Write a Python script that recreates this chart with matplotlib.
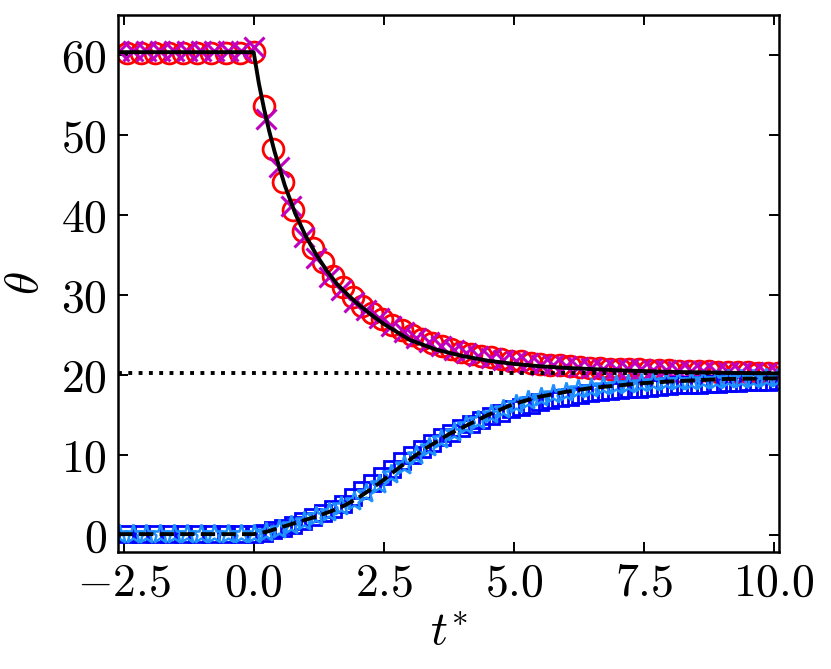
import numpy as np
import matplotlib
matplotlib.use('Agg')
import matplotlib.pyplot as plt

plt.rcParams['font.family'] = 'serif'
plt.rcParams['font.serif'] = ['cmr10']
plt.rcParams['mathtext.fontset'] = 'cm'
plt.rcParams['axes.formatter.use_mathtext'] = True

# reference curves
t_line_hot = [-2.6, 0.0, 0.1, 0.2, 0.3, 0.4, 0.6, 0.8, 1.0, 1.2, 1.4, 1.6, 1.8, 2.0,
              2.25, 2.5, 2.75, 3.0, 3.5, 4.0, 4.5, 5.0, 5.5, 6.0, 7.0, 8.0, 9.0, 10.1]
theta_line_hot = [60.4, 60.4, 56.5, 53.3, 50.5, 48.0, 43.7, 40.2, 37.4, 35.1, 33.1, 31.4, 30.1, 28.9,
                  27.6, 26.4, 25.4, 24.4, 23.2, 22.4, 21.8, 21.4, 21.1, 20.9, 20.6, 20.4, 20.3, 20.2]

t_line_cold = [-2.6, 0.0, 0.25, 0.5, 0.75, 1.0, 1.25, 1.5, 1.75, 2.0, 2.25, 2.5, 2.75, 3.0, 3.25,
               3.5, 3.75, 4.0, 4.5, 5.0, 5.5, 6.0, 6.5, 7.0, 7.5, 8.0, 8.5, 9.0, 9.5, 10.1]
theta_line_cold = [0.1, 0.1, 0.4, 0.9, 1.4, 1.9, 2.4, 3.0, 3.7, 4.6, 5.7, 6.9, 8.2, 9.4, 10.6,
                   11.6, 12.6, 13.4, 15.0, 16.4, 17.3, 17.9, 18.4, 18.7, 19.0, 19.2, 19.35, 19.5, 19.55, 19.6]

theta_eq = 20.2

# simulation set A (circles / squares)
t_a = [-2.43, -2.16, -1.89, -1.62, -1.35, -1.08, -0.81, -0.54, -0.27, 0.0,
       0.19, 0.38, 0.57, 0.76, 0.95, 1.14, 1.33, 1.52, 1.71, 1.90,
       2.09, 2.28, 2.47, 2.66, 2.85, 3.04, 3.23, 3.42, 3.61, 3.80,
       3.99, 4.18, 4.37, 4.56, 4.75, 4.94, 5.13, 5.32, 5.51, 5.70,
       5.89, 6.08, 6.27, 6.46, 6.65, 6.84, 7.03, 7.22, 7.41, 7.60,
       7.79, 7.98, 8.17, 8.36, 8.55, 8.74, 8.93, 9.12, 9.31, 9.50,
       9.69, 9.88, 10.07]
theta_a_hot = [60.3, 60.3, 60.3, 60.3, 60.3, 60.3, 60.3, 60.3, 60.3, 60.4,
               53.7, 48.3, 44.2, 40.7, 38.0, 35.9, 34.1, 32.4, 31.0, 29.8,
               28.7, 27.8, 27.0, 26.3, 25.6, 25.0, 24.5, 24.0, 23.6, 23.2,
               22.9, 22.6, 22.4, 22.2, 22.0, 21.8, 21.7, 21.5, 21.4, 21.3,
               21.2, 21.1, 21.0, 20.9, 20.9, 20.8, 20.8, 20.7, 20.7, 20.6,
               20.6, 20.6, 20.5, 20.5, 20.5, 20.5, 20.4, 20.4, 20.4, 20.4,
               20.3, 20.3, 20.3]
theta_a_cold = [0.1, 0.1, 0.1, 0.1, 0.1, 0.1, 0.1, 0.1, 0.1, 0.1,
                0.3, 0.6, 0.9, 1.3, 1.7, 2.2, 2.7, 3.3, 3.9, 4.7,
                5.6, 6.5, 7.4, 8.3, 9.2, 10.0, 10.8, 11.5, 12.2, 12.8,
                13.4, 13.9, 14.4, 14.9, 15.3, 15.7, 16.0, 16.3, 16.6, 16.9,
                17.1, 17.3, 17.5, 17.7, 17.9, 18.0, 18.1, 18.2, 18.3, 18.4,
                18.5, 18.6, 18.7, 18.8, 18.8, 18.9, 18.9, 19.0, 19.0, 19.1,
                19.1, 19.1, 19.2]

# simulation set B (crosses / stars)
t_b = [-2.58, -2.32, -2.06, -1.80, -1.54, -1.28, -1.02, -0.76, -0.50, -0.24, 0.0,
       0.24, 0.48, 0.72, 0.96, 1.20, 1.44, 1.68, 1.92, 2.16, 2.40,
       2.64, 2.88, 3.12, 3.36, 3.60, 3.84, 4.08, 4.32, 4.56, 4.80,
       5.04, 5.28, 5.52, 5.76, 6.00, 6.24, 6.48, 6.72, 6.96, 7.20,
       7.44, 7.68, 7.92, 8.16, 8.40, 8.64, 8.88, 9.12, 9.36, 9.60,
       9.84, 10.08]
theta_b_hot = [60.5, 60.5, 60.5, 60.5, 60.5, 60.5, 60.5, 60.5, 60.5, 60.5, 61.0,
               52.0, 46.0, 41.2, 37.3, 34.6, 32.3, 30.6, 29.2, 28.1, 27.1,
               26.2, 25.4, 24.7, 24.1, 23.6, 23.1, 22.7, 22.4, 22.1, 21.9,
               21.7, 21.5, 21.3, 21.2, 21.1, 21.0, 20.9, 20.8, 20.8, 20.7,
               20.7, 20.6, 20.6, 20.5, 20.5, 20.5, 20.4, 20.4, 20.4, 20.4,
               20.3, 20.3]
theta_b_cold = [0.1, 0.1, 0.1, 0.1, 0.1, 0.1, 0.1, 0.1, 0.1, 0.1, 0.1,
                0.4, 0.8, 1.3, 1.8, 2.4, 2.9, 3.6, 4.3, 5.3, 6.4,
                7.6, 8.8, 10.0, 11.0, 12.0, 12.9, 13.7, 14.4, 15.1, 15.8,
                16.4, 16.9, 17.3, 17.6, 17.9, 18.2, 18.4, 18.6, 18.7, 18.9,
                19.0, 19.1, 19.2, 19.3, 19.3, 19.4, 19.4, 19.5, 19.5, 19.5,
                19.6, 19.6]

fig = plt.figure(figsize=(8.31, 6.69), dpi=100)
ax = fig.add_axes([0.1424, 0.1753, 0.7954, 0.8017])

ax.plot(t_a, theta_a_hot, 'o', color='red', mfc='none', ms=15, mew=2.0)
ax.plot(t_b, theta_b_hot, 'x', color='#c000c0', ms=14, mew=2.2)
ax.plot(t_a, theta_a_cold, 's', color='blue', mfc='none', ms=12, mew=2.0)
ax.plot(t_b, theta_b_cold, '*', color='#1e90ff', mfc='none', ms=14, mew=1.8)

ax.plot(t_line_hot, theta_line_hot, '-', color='black', lw=2.8)
ax.plot(t_line_cold, theta_line_cold, '--', color='black', lw=2.8)
ax.axhline(theta_eq, color='black', ls=':', lw=2.8)

ax.set_xlim(-2.6, 10.1)
ax.set_ylim(-2.1, 65.0)
ax.set_xticks([-2.5, 0.0, 2.5, 5.0, 7.5, 10.0])
ax.set_yticks([0, 10, 20, 30, 40, 50, 60])
ax.tick_params(direction='in', top=True, right=True, length=7, width=1.4, labelsize=33, pad=8)
for s in ax.spines.values():
    s.set_linewidth(1.8)

ax.set_xlabel(r'$t^{*}$', fontsize=34, labelpad=6)
ax.set_ylabel(r'$\theta$', fontsize=34, labelpad=10)

fig.savefig('out.png', dpi=100)
